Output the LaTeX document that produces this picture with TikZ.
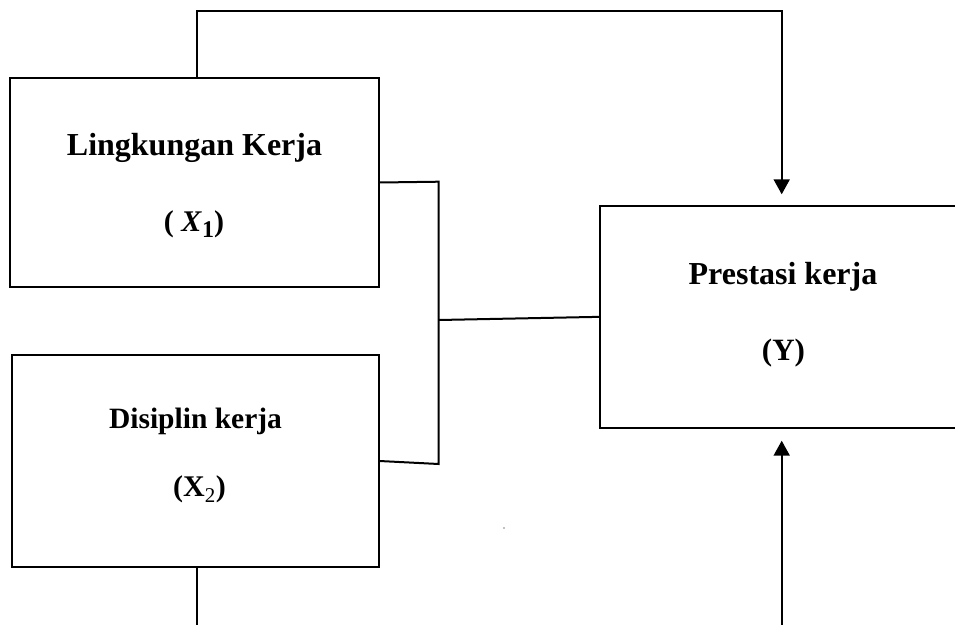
\documentclass[tikz,border=0pt]{standalone}
\usepackage{fontspec}
\setmainfont{Liberation Serif}
\usetikzlibrary{arrows.meta}
\begin{document}
\begin{tikzpicture}[x=1pt,y=-1pt,
  box/.style={draw,line width=2pt,rectangle,inner sep=0pt},
  conn/.style={line width=2pt},
  arr/.style={line width=2pt,-{Triangle[width=16pt,length=15pt]}},
  lbl/.style={anchor=base,inner sep=0pt,font=\bfseries\fontsize{32}{36}\selectfont}]
\clip (0,0) rectangle (955,624);
\fill[white] (0,0) rectangle (955,624);
% boxes
\node[box,minimum width=368.7pt,minimum height=209.6pt] (b1) at (194.3,182.5) {};
\node[box,minimum width=367pt,minimum height=211.4pt] (b2) at (195.2,461) {};
\node[box,minimum width=362pt,minimum height=222.3pt] (by) at (781.3,316.85) {};
% labels
\node[lbl] (t1) at (194.5,155.7) {Lingkungan Kerja};
\node[lbl,font=\bfseries\fontsize{30}{36}\selectfont] (t1b) at (194,231.7) {( \textit{X}\raisebox{-0.18em}{\fontsize{24}{24}\selectfont 1})};
\node[lbl,font=\bfseries\fontsize{29.5}{36}\selectfont] (t2) at (195.5,428.3) {Disiplin kerja};
\node[lbl,font=\bfseries\fontsize{30}{36}\selectfont] (t2b) at (199.5,496.7) {(X\textsubscript{\mdseries 2})};
\node[lbl] (ty) at (783,284) {Prestasi kerja};
\node[lbl,font=\bfseries\fontsize{31}{36}\selectfont] (tyb) at (783.5,360) {(Y)};
% junction coordinates
\coordinate (j1) at (438.7,181.7);
\coordinate (j2) at (438.7,464);
\coordinate (jm) at (438.7,320);
\coordinate (s1) at (197,77.7);
\coordinate (top) at (781.7,11.3);
\coordinate (tipT) at (781.7,194.3);
\coordinate (s2) at (197,566.7);
\coordinate (s2b) at (197,630);
\coordinate (botS) at (781.7,630);
\coordinate (tipB) at (781.7,440.7);
% connectors
\draw[conn] (b1.east) -- (j1) -- (j2) -- (b2.east);
\draw[conn] (jm) -- (by.west);
\draw[arr] (s1) |- (top) -- (tipT);
\draw[conn] (s2) -- (s2b);
\draw[arr] (botS) -- (tipB);
% stray dot
\fill[gray] (504,528) circle (0.9);
\end{tikzpicture}
\end{document}
